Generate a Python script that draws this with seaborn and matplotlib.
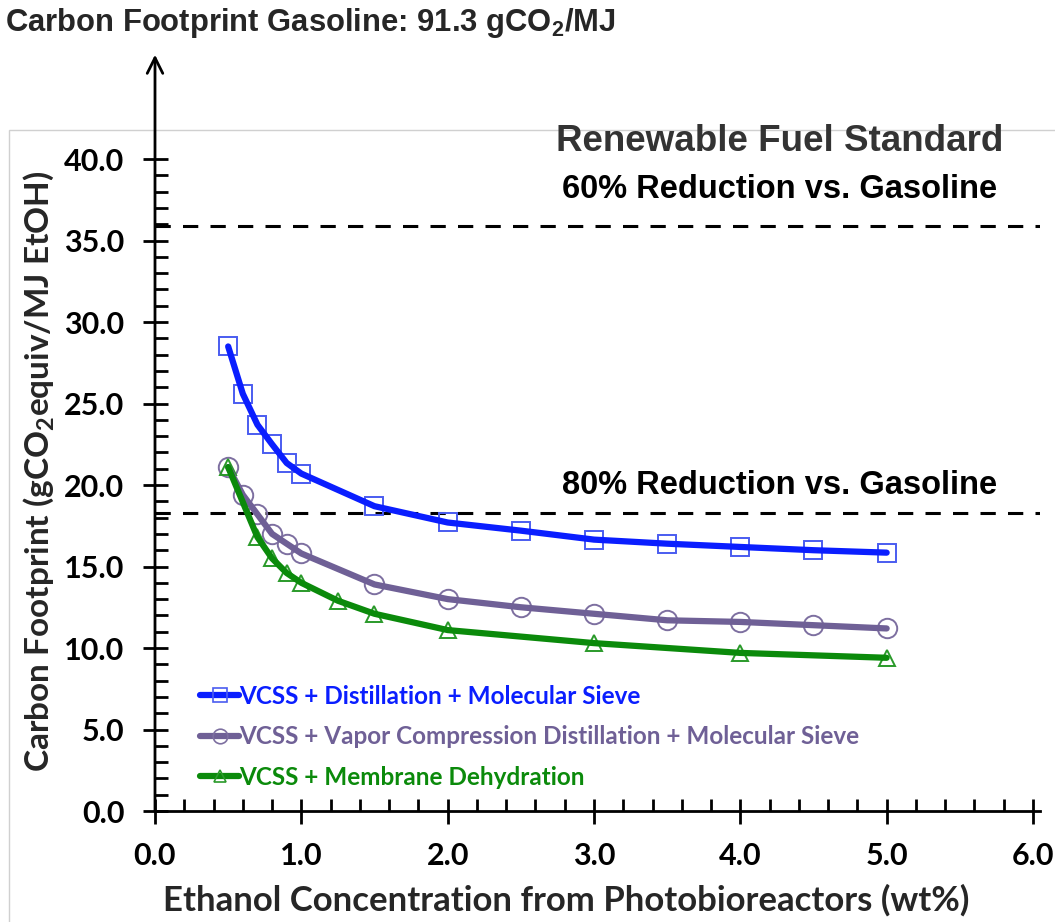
import matplotlib
matplotlib.use("Agg")
import matplotlib.pyplot as plt
import seaborn as sns
import pandas as pd
import numpy as np
from matplotlib.lines import Line2D
from matplotlib.patches import Rectangle
from matplotlib.ticker import MultipleLocator, FixedLocator, FormatStrFormatter

# ---- data ----
x_dist = [0.5, 0.6, 0.7, 0.8, 0.9, 1.0, 1.5, 2.0, 2.5, 3.0, 3.5, 4.0, 4.5, 5.0]
y_dist = [28.5, 25.6, 23.7, 22.5, 21.35, 20.7, 18.7, 17.7, 17.2, 16.65, 16.4, 16.2, 16.0, 15.85]

x_vcd = [0.5, 0.6, 0.7, 0.8, 0.9, 1.0, 1.5, 2.0, 2.5, 3.0, 3.5, 4.0, 4.5, 5.0]
y_vcd = [21.1, 19.4, 18.2, 17.0, 16.4, 15.8, 13.9, 13.0, 12.5, 12.1, 11.7, 11.6, 11.4, 11.2]

x_mem = [0.5, 0.7, 0.8, 0.9, 1.0, 1.25, 1.5, 2.0, 3.0, 4.0, 5.0]
y_mem = [21.1, 16.8, 15.5, 14.6, 14.0, 12.9, 12.1, 11.1, 10.3, 9.7, 9.4]

series_names = ["VCSS + Distillation + Molecular Sieve",
                "VCSS + Vapor Compression Distillation + Molecular Sieve",
                "VCSS + Membrane Dehydration"]
gasoline_cf = 91.3
rfs_60 = 35.9
rfs_80 = 18.26

x_ticks = [0.0, 1.0, 2.0, 3.0, 4.0, 5.0, 6.0]
y_ticks = [0.0, 5.0, 10.0, 15.0, 20.0, 25.0, 30.0, 35.0, 40.0]

sns.set_style("white")
plt.rcParams['font.family'] = ['Lato', 'DejaVu Sans']

W, H = 1055, 922
fig = plt.figure(figsize=(W / 100, H / 100), dpi=100)
L, B, R, T = 155, 811, 1040.3, 54.7
ax = fig.add_axes([L / W, (H - B) / H, (R - L) / W, (B - T) / H])
ax.patch.set_alpha(0)

# light grey chart frame
fig.patches.append(Rectangle((9 / W, -0.01), 1.1, (H - 130) / H + 0.01,
                             transform=fig.transFigure, fill=False,
                             edgecolor='#d0d0d0', linewidth=1.0, zorder=-5))

styles = [
    dict(x=x_dist, y=y_dist, line='#0a1eff', mk='#4a5cf0', marker='s', ms=13),
    dict(x=x_vcd, y=y_vcd, line='#6f6096', mk='#7d6fa0', marker='o', ms=14),
    dict(x=x_mem, y=y_mem, line='#0b8a0b', mk='#2a9a2a', marker='^', ms=12),
]

handles = []
for name, st in zip(series_names, styles):
    df = pd.DataFrame({"x": st["x"], "y": st["y"]})
    sns.lineplot(data=df, x="x", y="y", ax=ax, linestyle='', marker=st["marker"],
                 markersize=st["ms"], markerfacecolor='none',
                 markeredgecolor=st["mk"], markeredgewidth=1.4, zorder=3)
    sns.lineplot(data=df, x="x", y="y", ax=ax, color=st["line"], linewidth=4.5,
                 solid_capstyle='round', zorder=4)
    handles.append(Line2D([0], [0], color=st["line"], linewidth=4.5,
                          marker=st["marker"], markersize=st["ms"] * 0.75,
                          markerfacecolor='none', markeredgecolor=st["mk"],
                          markeredgewidth=1.2, label=name))

# RFS reference lines
ax.axhline(rfs_60, color='black', linestyle=(0, (5, 4)), linewidth=2.2, zorder=2)
ax.axhline(rfs_80, color='black', linestyle=(0, (5, 4)), linewidth=2.2, zorder=2)

ax.set_xlim(0, 6.05)
ax.set_ylim(0, 46.4)
ax.set_xticks(x_ticks)
ax.set_yticks(y_ticks)
ax.xaxis.set_minor_locator(MultipleLocator(0.2))
ax.yaxis.set_minor_locator(FixedLocator(np.arange(0, 40.5, 1.0)))
ax.xaxis.set_major_formatter(FormatStrFormatter('%.1f'))
ax.yaxis.set_major_formatter(FormatStrFormatter('%.1f'))

for s in ['top', 'right', 'left']:
    ax.spines[s].set_visible(False)
ax.spines['bottom'].set_linewidth(2.0)
ax.spines['bottom'].set_color('black')

ax.tick_params(axis='both', which='both', bottom=True, left=True, top=False, right=False)
ax.tick_params(axis='both', which='major', direction='inout', length=18, width=2,
               colors='black', labelsize=22)
ax.tick_params(axis='both', which='minor', direction='in', length=9, width=2,
               colors='black')
ax.tick_params(axis='x', which='major', pad=13)
ax.tick_params(axis='y', which='major', pad=13)
for lab in ax.get_xticklabels() + ax.get_yticklabels():
    lab.set_fontweight('bold')

# y axis with arrow to gasoline
ax.annotate('', xy=(0, 46.4), xytext=(0, 0), xycoords='data',
            arrowprops=dict(arrowstyle='->', color='black', lw=2.0,
                            mutation_scale=28, shrinkA=0, shrinkB=0),
            annotation_clip=False, zorder=5)

ax.set_xlabel('Ethanol Concentration from Photobioreactors (wt%)',
              fontsize=25, fontweight='bold')
ax.xaxis.set_label_coords((566 - L) / (R - L), -(884 - 811) / (B - T))
ax.set_ylabel(r'Carbon Footprint (gCO$_\mathdefault{2}$equiv/MJ EtOH)',
              fontsize=24, fontweight='bold')
ax.yaxis.set_label_coords(-(155 - 57) / (R - L), (811 - 471) / (B - T))

fig.text(5 / W, 1 - 23 / H,
         r'Carbon Footprint Gasoline: %.1f gCO$_\mathdefault{2}$/MJ' % gasoline_cf,
         family='Liberation Sans', fontweight='bold', fontsize=22.3,
         ha='left', va='center')

ax.text(4.27, 41.1, 'Renewable Fuel Standard', family='Liberation Sans',
        fontweight='bold', fontsize=26.5, color='#333333', ha='center', va='center')
ax.text(4.27, 38.1, '60% Reduction vs. Gasoline', family='Liberation Sans',
        fontweight='bold', fontsize=23.5, color='black', ha='center', va='center')
ax.text(4.27, 20.0, '80% Reduction vs. Gasoline', family='Liberation Sans',
        fontweight='bold', fontsize=23.5, color='black', ha='center', va='center')

leg = ax.legend(handles=handles, loc='upper left', bbox_to_anchor=(0.04, 0.180),
                frameon=False, fontsize=17.5, handlelength=1.6, handletextpad=0.0,
                labelspacing=0.72, borderaxespad=0)
for t, st in zip(leg.get_texts(), styles):
    t.set_color(st["line"])
    t.set_fontweight('bold')

fig.savefig('out.png', dpi=100)
